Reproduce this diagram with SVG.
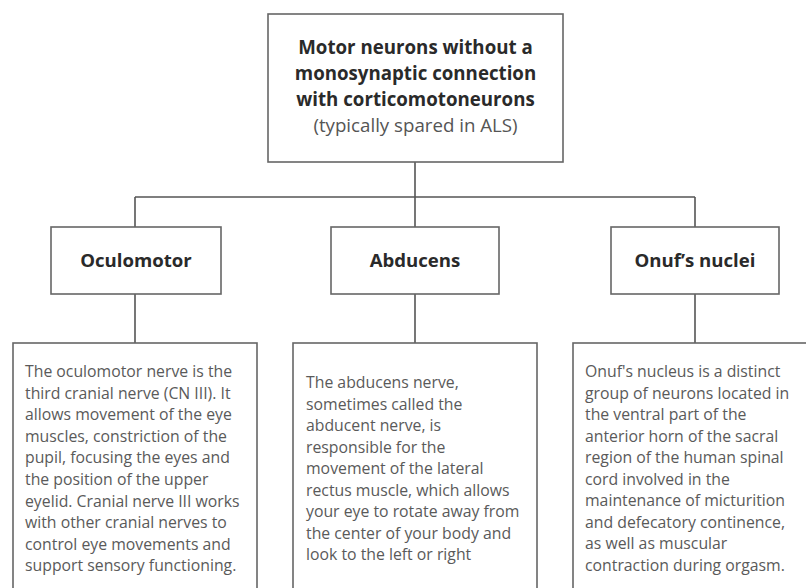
<svg xmlns="http://www.w3.org/2000/svg" width="806" height="588" viewBox="0 0 806 588">
<style>
.box{fill:#fff;stroke:#666;stroke-width:1.6}
.conn{fill:none;stroke:#555;stroke-width:1.6}
.title{font-family:"Open Sans","Liberation Sans",sans-serif;font-weight:bold;font-size:18.7px;fill:#2a2a2a;text-anchor:middle}
.sub{font-family:"Open Sans","Liberation Sans",sans-serif;font-size:18.7px;fill:#555;text-anchor:middle}
.lbl{font-family:"Open Sans","Liberation Sans",sans-serif;font-weight:bold;font-size:18.6px;fill:#2a2a2a;text-anchor:middle}
.body{font-family:"Open Sans","Liberation Sans",sans-serif;font-size:15.8px;fill:#5a5a5a}
</style>
<rect width="806" height="588" fill="#fff"/>
<g id="connectors">
<path class="conn" d="M415,162 V197 M135,197 H695 M135,197 V227 M415,197 V227 M695,197 V227"/>
<path class="conn" d="M135,294 V343 M415,294 V343 M695,294 V343"/>
</g>
<g id="root">
<rect class="box" x="268" y="14" width="295" height="148"/>
<text class="title" x="415.5" y="54">Motor neurons without a</text>
<text class="title" x="415.5" y="80">monosynaptic connection</text>
<text class="title" x="415.5" y="106">with corticomotoneurons</text>
<text class="sub" x="415.5" y="132">(typically spared in ALS)</text>
</g>
<g id="oculomotor">
<rect class="box" x="51" y="227" width="170" height="67"/>
<text class="lbl" x="136" y="267">Oculomotor</text>
</g>
<g id="abducens">
<rect class="box" x="331" y="227" width="168" height="67"/>
<text class="lbl" x="415" y="267">Abducens</text>
</g>
<g id="onufs">
<rect class="box" x="611" y="227" width="168" height="67"/>
<text class="lbl" x="695" y="267">Onuf’s nuclei</text>
</g>
<g id="oculomotor-desc">
<rect class="box" x="13" y="343" width="244" height="260"/>
<text class="body" x="25" y="377">
<tspan x="25" y="377">The oculomotor nerve is the</tspan>
<tspan x="25" y="398.6">third cranial nerve (CN III). It</tspan>
<tspan x="25" y="420.2">allows movement of the eye</tspan>
<tspan x="25" y="441.8">muscles, constriction of the</tspan>
<tspan x="25" y="463.4">pupil, focusing the eyes and</tspan>
<tspan x="25" y="485">the position of the upper</tspan>
<tspan x="25" y="506.6">eyelid. Cranial nerve III works</tspan>
<tspan x="25" y="528.2">with other cranial nerves to</tspan>
<tspan x="25" y="549.8">control eye movements and</tspan>
<tspan x="25" y="571.4">support sensory functioning.</tspan>
</text>
</g>
<g id="abducens-desc">
<rect class="box" x="293" y="343" width="244" height="260"/>
<text class="body" x="306" y="388">
<tspan x="306" y="388">The abducens nerve,</tspan>
<tspan x="306" y="409.5">sometimes called the</tspan>
<tspan x="306" y="431">abducent nerve, is</tspan>
<tspan x="306" y="452.5">responsible for the</tspan>
<tspan x="306" y="474">movement of the lateral</tspan>
<tspan x="306" y="495.5">rectus muscle, which allows</tspan>
<tspan x="306" y="517">your eye to rotate away from</tspan>
<tspan x="306" y="538.5">the center of your body and</tspan>
<tspan x="306" y="560">look to the left or right</tspan>
</text>
</g>
<g id="onufs-desc">
<rect class="box" x="573" y="343" width="244" height="260"/>
<text class="body" x="585" y="377">
<tspan x="585" y="377">Onuf's nucleus is a distinct</tspan>
<tspan x="585" y="398.5">group of neurons located in</tspan>
<tspan x="585" y="420">the ventral part of the</tspan>
<tspan x="585" y="441.5">anterior horn of the sacral</tspan>
<tspan x="585" y="463">region of the human spinal</tspan>
<tspan x="585" y="484.5">cord involved in the</tspan>
<tspan x="585" y="506">maintenance of micturition</tspan>
<tspan x="585" y="527.5">and defecatory continence,</tspan>
<tspan x="585" y="549">as well as muscular</tspan>
<tspan x="585" y="570.5">contraction during orgasm.</tspan>
</text>
</g>
</svg>
